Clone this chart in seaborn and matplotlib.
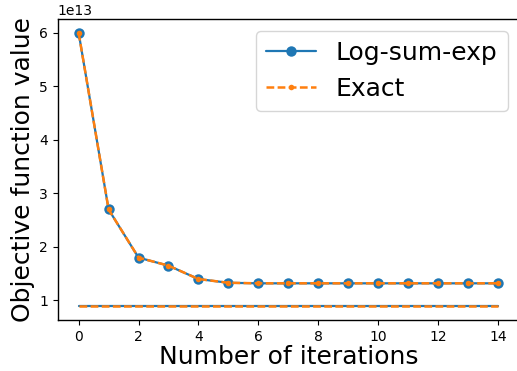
import numpy as np
import pandas as pd
import matplotlib
matplotlib.use("Agg")
import matplotlib.pyplot as plt
import seaborn as sns

iterations = list(range(15))
log_sum_exp = [6.0e13, 2.70e13, 1.80e13, 1.65e13, 1.40e13, 1.33e13, 1.32e13, 1.32e13,
               1.32e13, 1.32e13, 1.32e13, 1.32e13, 1.32e13, 1.32e13, 1.32e13]
exact = [6.0e13, 2.70e13, 1.80e13, 1.65e13, 1.40e13, 1.33e13, 1.32e13, 1.32e13,
         1.32e13, 1.32e13, 1.32e13, 1.32e13, 1.32e13, 1.32e13, 1.32e13]
lower_lse = [0.89e13] * 15
lower_exact = [0.89e13] * 15

sns.set_theme(style="ticks")
plt.rcParams["font.family"] = ["DejaVu Sans"]
plt.rcParams["axes.edgecolor"] = "black"
plt.rcParams["xtick.color"] = "black"
plt.rcParams["ytick.color"] = "black"
plt.rcParams["text.color"] = "black"
plt.rcParams["axes.labelcolor"] = "black"

blue = "#1f77b4"
orange = "#ff7f0e"

fig = plt.figure(figsize=(5.17, 3.71), dpi=100)
ax = fig.add_axes([0.1116, 0.1375, 0.892, 0.8105])

df = pd.DataFrame({"it": iterations, "lse": log_sum_exp, "exact": exact,
                   "lo1": lower_lse, "lo2": lower_exact})

sns.lineplot(data=df, x="it", y="lse", ax=ax, color=blue, marker="o", markersize=7.5,
             linewidth=1.6, markeredgewidth=0, label="Log-sum-exp")
sns.lineplot(data=df, x="it", y="exact", ax=ax, color=orange, marker="o", markersize=4,
             linewidth=1.8, linestyle="--", markeredgewidth=0, label="Exact")
sns.lineplot(data=df, x="it", y="lo1", ax=ax, color=blue, linewidth=1.6, legend=False)
sns.lineplot(data=df, x="it", y="lo2", ax=ax, color=orange, linewidth=1.8,
             linestyle="--", legend=False)

for ln in ax.get_lines():
    if ln.get_linestyle() == "--":
        ln.set_dashes((3.1, 1.35))

ax.set_xticks([0, 2, 4, 6, 8, 10, 12, 14])
ax.set_yticks([1e13, 2e13, 3e13, 4e13, 5e13, 6e13])
ax.tick_params(labelsize=10, length=3.5, width=0.8)
ax.yaxis.get_offset_text().set_fontsize(10)
ax.set_xlabel("Number of iterations", fontsize=18, labelpad=1)
ax.set_ylabel("Objective function value", fontsize=18, labelpad=3)
for s in ax.spines.values():
    s.set_linewidth(1.0)

ax.legend(loc="upper right", fontsize=18, frameon=True, fancybox=True,
          handlelength=2.0, borderaxespad=0.45)

fig.savefig("out.png", dpi=100)
